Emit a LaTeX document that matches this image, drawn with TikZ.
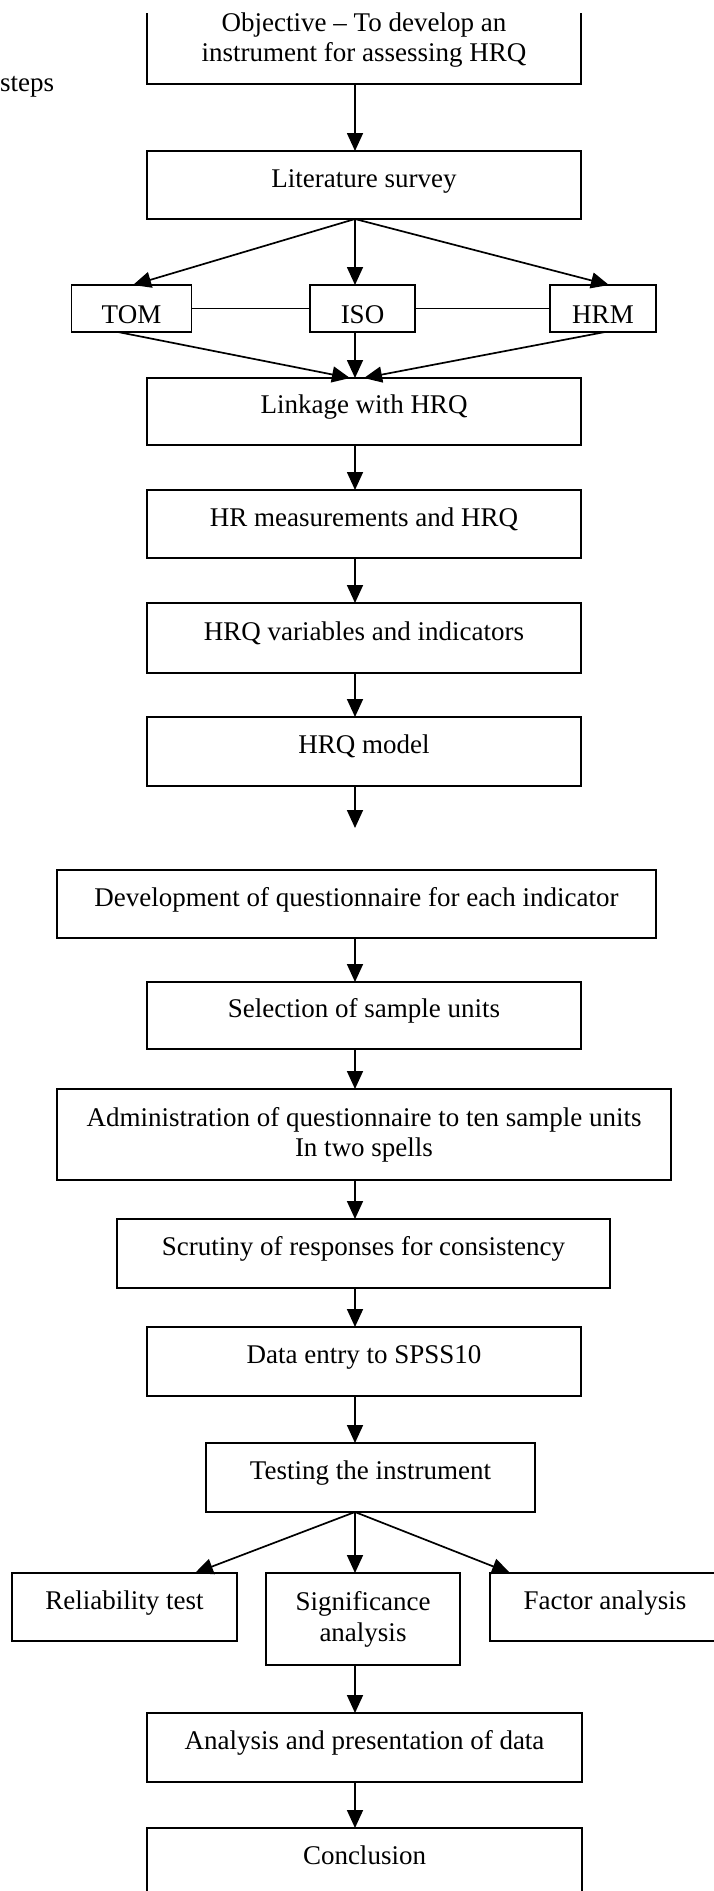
\documentclass[tikz,border=0pt]{standalone}
\usepackage{fontspec}
\setmainfont{Liberation Serif}
\usetikzlibrary{arrows.meta}
\begin{document}
\begin{tikzpicture}[x=1pt,y=-1pt,
  font=\fontsize{27}{30}\selectfont,
  stepbox/.style={draw, line width=1.8pt, rectangle, inner sep=0pt, outer sep=0pt,
                  text height=20pt, text depth=16pt},
  sourcebox/.style={draw, line width=1.8pt, rectangle, inner sep=0pt, outer sep=0pt,
                  text height=30pt, text depth=1pt},
  multibox/.style={draw, line width=1.8pt, rectangle, inner sep=0pt, outer sep=0pt,
                   align=center},
  flow/.style={-{Triangle[length=18pt,width=16pt]}, line width=1.7pt},
  joinline/.style={line width=1.7pt},
  rim/.style={line width=1.8pt}]
\useasboundingbox (0,0) rectangle (713,1891);

% main vertical line of the flow
\coordinate (spine) at (355,0);
\coordinate (topcut) at (0,13);
\coordinate (pagebottom) at (0,1891);

% side note
\node[anchor=base west, inner sep=0pt] (note) at (0,91) {steps};

% boxes
\node[multibox, draw=none, minimum width=434pt, minimum height=88pt] (obj) at (364,40)
  {Objective -- To develop an\\ instrument for assessing HRQ};
\node[stepbox, minimum width=434pt, minimum height=68pt] (lit) at (364,185) {Literature survey};

\node[sourcebox, minimum width=120pt, minimum height=47pt] (tom) at (131.5,308.5) {TOM};
\node[sourcebox, minimum width=105pt, minimum height=47pt] (iso) at (362.5,308.5) {ISO};
\node[sourcebox, minimum width=106pt, minimum height=47pt] (hrm) at (603,308.5) {HRM};

\node[stepbox, minimum width=434pt, minimum height=67pt] (link) at (364,411.5) {Linkage with HRQ};
\node[stepbox, minimum width=434pt, minimum height=68pt] (meas) at (364,524) {HR measurements and HRQ};
\node[stepbox, minimum width=434pt, minimum height=70pt] (vars) at (364,638) {HRQ variables and indicators};
\node[stepbox, minimum width=434pt, minimum height=69pt] (model) at (364,751.5) {HRQ model};
\coordinate (gap) at (355,828);

\node[stepbox, minimum width=599pt, minimum height=68pt] (dev) at (356.5,904)
  {Development of questionnaire for each indicator};
\node[stepbox, minimum width=434pt, minimum height=67pt] (sel) at (364,1015.5) {Selection of sample units};
\node[multibox, minimum width=614pt, minimum height=91pt] (adm) at (364,1134.5)
  {Administration of questionnaire to ten sample units\\ In two spells};
\node[stepbox, minimum width=493pt, minimum height=69pt] (scr) at (363.5,1253.5)
  {Scrutiny of responses for consistency};
\node[stepbox, minimum width=434pt, minimum height=69pt] (data) at (364,1361.5) {Data entry to SPSS10};
\node[stepbox, minimum width=329pt, minimum height=69pt] (test) at (370.5,1477.5) {Testing the instrument};

\node[stepbox, minimum width=225pt, minimum height=68pt] (rel) at (124.5,1607) {Reliability test};
\node[multibox, minimum width=194pt, minimum height=92pt] (sig) at (363,1619)
  {Significance\\[1pt] analysis};
\node[stepbox, minimum width=230pt, minimum height=68pt] (fac) at (605,1607) {Factor analysis};

\node[stepbox, minimum width=435pt, minimum height=69pt] (ana) at (364.5,1747.5)
  {Analysis and presentation of data};
\node[stepbox, draw=none, minimum width=435pt, minimum height=69pt] (con) at (364.5,1862.5) {Conclusion};

% open-ended frames at the top and bottom edges
\draw[rim] (obj.north west |- topcut) -- (obj.south west) -- (obj.south east) -- (obj.north east |- topcut);
\draw[rim] (con.south west |- pagebottom) -- (con.north west) -- (con.north east) -- (con.south east |- pagebottom);

% connectors
\draw[flow] (obj.south -| spine) -- (lit.north -| spine);
\draw[flow] (lit.south -| spine) -- ([xshift=1.5pt]tom.north);
\draw[flow] (lit.south -| spine) -- (iso.north -| spine);
\draw[flow] (lit.south -| spine) -- ([xshift=6pt]hrm.north);

\draw[joinline] (tom) -- (iso);
\draw[joinline] (iso) -- (hrm);

\coordinate (linkin) at (link.north -| spine);
\draw[flow] ([xshift=-13.5pt]tom.south) -- ([xshift=-5pt]linkin);
\draw[flow] (iso.south -| spine) -- (linkin);
\draw[flow] ([xshift=2pt]hrm.south) -- ([xshift=9pt]linkin);

\draw[flow] (link.south -| spine) -- (meas.north -| spine);
\draw[flow] (meas.south -| spine) -- (vars.north -| spine);
\draw[flow] (vars.south -| spine) -- (model.north -| spine);
\draw[flow] (model.south -| spine) -- (gap);

\draw[flow] (dev.south -| spine) -- (sel.north -| spine);
\draw[flow] (sel.south -| spine) -- (adm.north -| spine);
\draw[flow] (adm.south -| spine) -- (scr.north -| spine);
\draw[flow] (scr.south -| spine) -- (data.north -| spine);
\draw[flow] (data.south -| spine) -- (test.north -| spine);

\draw[flow] (test.south -| spine) -- ([xshift=70.5pt]rel.north);
\draw[flow] (test.south -| spine) -- (sig.north -| spine);
\draw[flow] (test.south -| spine) -- ([xshift=-95pt]fac.north);

\draw[flow] (sig.south -| spine) -- (ana.north -| spine);
\draw[flow] (ana.south -| spine) -- (con.north -| spine);
\end{tikzpicture}
\end{document}
